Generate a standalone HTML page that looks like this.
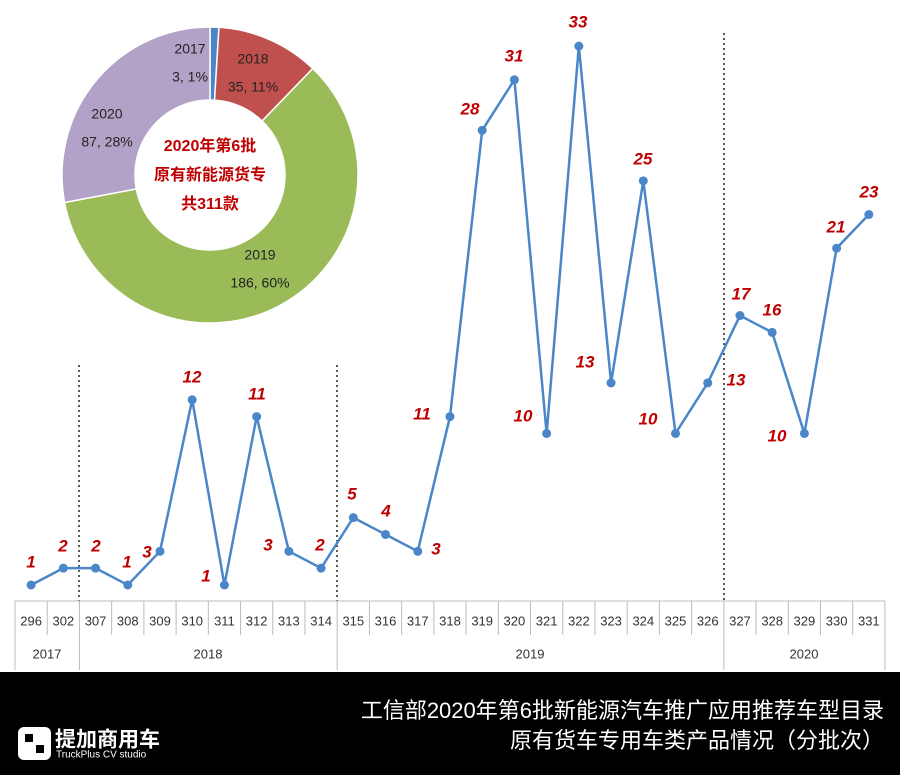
<!DOCTYPE html>
<html><head><meta charset="utf-8"><style>
body{margin:0;width:900px;height:775px;background:#fff;overflow:hidden;font-family:"Liberation Sans","Noto Sans CJK SC",sans-serif}
</style></head><body>
<svg id="s" width="900" height="775" xmlns="http://www.w3.org/2000/svg" style="position:absolute;left:0;top:0"></svg>
<script>
const s=document.getElementById('s');let h='';
const cats=[296,302,307,308,309,310,311,312,313,314,315,316,317,318,319,320,321,322,323,324,325,326,327,328,329,330,331];
const vals=[1,2,2,1,3,12,1,11,3,2,5,4,3,11,28,31,10,33,13,25,10,13,17,16,10,21,23];
const x0=15,w=32.22;const cx=i=>x0+w*(i+0.5);const cy=v=>585-(v-1)*16.84;
const C=[210,175],R=148,r=75;const d=[[3,'#4a86c8'],[35,'#c0504d'],[186,'#9bbb59'],[87,'#b2a2c7']];
let a=0;const tot=311;
function pt(rad,ang){return [C[0]+rad*Math.sin(ang),C[1]-rad*Math.cos(ang)]}
d.forEach(([v,c])=>{const a1=a+v/tot*2*Math.PI;const L=(a1-a)>Math.PI?1:0;
const p1=pt(R,a),p2=pt(R,a1),p3=pt(r,a1),p4=pt(r,a);
h+=`<path d="M${p1} A${R},${R} 0 ${L} 1 ${p2} L${p3} A${r},${r} 0 ${L} 0 ${p4}Z" fill="${c}" stroke="#fff" stroke-width="1.5"/>`;a=a1;});
const dl=[[190,50,'2017'],[190,78,'3, 1%'],[253,60,'2018'],[253,88,'35, 11%'],[107,115,'2020'],[107,143,'87, 28%'],[260,256,'2019'],[260,284,'186, 60%']];
dl.forEach(([x,y,t])=>h+=`<text x="${x}" y="${y}" font-size="14" fill="#222" text-anchor="middle" dominant-baseline="middle">${t}</text>`);
[['2020年第6批',147],['原有新能源货专',176],['共311款',205]].forEach(([t,y])=>h+=`<text x="210" y="${y}" font-size="16" font-weight="bold" fill="#c00000" text-anchor="middle" dominant-baseline="middle">${t}</text>`);
[[79,365],[337,365],[724,33]].forEach(([x,y])=>h+=`<line x1="${x}" y1="${y}" x2="${x}" y2="601" stroke="#000" stroke-width="1.3" stroke-dasharray="2,3"/>`);
h+=`<line x1="${x0}" y1="601" x2="885" y2="601" stroke="#bbb"/>`;
for(let i=0;i<=27;i++){const x=x0+w*i;const big=[0,2,10,22,27].includes(i);h+=`<line x1="${x}" y1="601" x2="${x}" y2="${big?670:635}" stroke="#bbb"/>`;}
cats.forEach((c,i)=>h+=`<text x="${cx(i)}" y="622" font-size="13" fill="#333" text-anchor="middle" dominant-baseline="middle">${c}</text>`);
[[47,'2017'],[208,'2018'],[530,'2019'],[804,'2020']].forEach(([x,t])=>h+=`<text x="${x}" y="655" font-size="13" fill="#333" text-anchor="middle" dominant-baseline="middle">${t}</text>`);
h+=`<polyline fill="none" stroke="#4a86c8" stroke-width="2.5" points="${vals.map((v,i)=>cx(i)+','+cy(v)).join(' ')}"/>`;
vals.forEach((v,i)=>h+=`<circle cx="${cx(i)}" cy="${cy(v)}" r="4.5" fill="#4a86c8"/>`);
const lb=[[31,563],[63,547],[96,547],[127,563],[147,553],[192,378],[206,577],[257,395],[268,546],[320,546],[352,495],[386,512],[436,550],[422,415],[470,110],[514,57],[523,417],[578,23],[585,363],[643,160],[648,420],[736,381],[741,295],[772,311],[777,437],[836,228],[869,193]];
lb.forEach(([x,y],i)=>h+=`<text x="${x}" y="${y}" font-size="17" font-weight="bold" font-style="italic" fill="#c00000" text-anchor="middle" dominant-baseline="middle">${vals[i]}</text>`);
h+=`<rect x="0" y="672" width="900" height="103" fill="#000"/>`;
h+=`<text x="884" y="712" font-size="22" fill="#fff" text-anchor="end" dominant-baseline="middle">工信部2020年第6批新能源汽车推广应用推荐车型目录</text>`;
h+=`<text x="884" y="742" font-size="22" fill="#fff" text-anchor="end" dominant-baseline="middle">原有货车专用车类产品情况（分批次）</text>`;
h+=`<rect x="18" y="727" width="33" height="33" rx="6" fill="#fff"/><rect x="25" y="734" width="8" height="8" fill="#000"/><rect x="36" y="745" width="8" height="8" fill="#000"/>`;
h+=`<text x="55" y="741" font-size="21" font-weight="bold" fill="#fff" dominant-baseline="middle">提加商用车</text>`;
h+=`<text x="56" y="755" font-size="10" fill="#fff" dominant-baseline="middle">TruckPlus CV studio</text>`;
s.innerHTML=h;
</script>
</body></html>
